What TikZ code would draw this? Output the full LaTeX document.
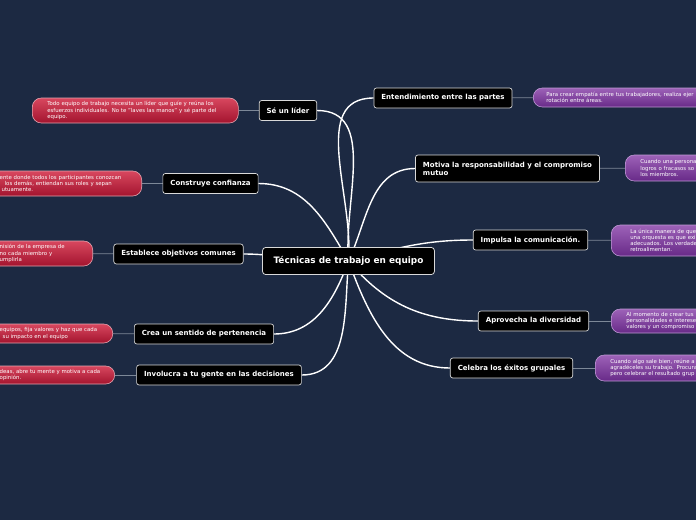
\documentclass[tikz,border=0pt]{standalone}
\usepackage{fontspec}
\setmainfont{DejaVu Sans}
\usetikzlibrary{positioning}
\definecolor{navy}{HTML}{1C2942}
\definecolor{redtop}{HTML}{D8475F}
\definecolor{redbot}{HTML}{A3142E}
\definecolor{redline}{HTML}{E3A3AE}
\definecolor{purpletop}{HTML}{9D62B8}
\definecolor{purplebot}{HTML}{682A88}
\definecolor{purpleline}{HTML}{BE98D4}
\definecolor{linkgrey}{HTML}{7D8898}
\pgfdeclarelayer{back}
\pgfdeclarelayer{links}
\pgfsetlayers{back,links,main}

\begin{document}
\begin{tikzpicture}[
    x=1pt, y=-1pt,
    root/.style={draw=white!85!black, fill=black, rounded corners=3pt, text=white, line width=0.8pt,
        font=\bfseries\fontsize{8.9}{10}\selectfont, minimum height=27pt, inner xsep=11pt},
    topic/.style={draw=white!85!black, fill=black, rounded corners=2.5pt, text=white, line width=0.7pt,
        font=\bfseries\fontsize{7}{8.2}\selectfont, minimum height=20pt, inner xsep=7.5pt},
    idea/.style={rounded corners=9pt, text=white, align=left, line width=0.6pt,
        font=\fontsize{5.4}{6.2}\selectfont, inner ysep=2pt},
    redidea/.style={idea, top color=redtop, bottom color=redbot, draw=redline},
    purpleidea/.style={idea, top color=purpletop, bottom color=purplebot, draw=purpleline},
    branch/.style={white, line width=1.4pt},
    twig/.style={linkgrey, line width=0.7pt}
]
    \useasboundingbox (0,0) rectangle (696,520);
    \begin{pgfonlayer}{back}
        \fill[navy] (0,0) rectangle (696,520);
    \end{pgfonlayer}

    \node[root] (root) at (348.5,261) {Técnicas de trabajo en equipo};

    % left side
    \node[topic] (lider) at (288,110.5) {Sé un líder};
    \node[topic] (confianza) at (210.5,183.5) {Construye confianza};
    \node[topic] (objetivos) at (178.5,254) {Establece objetivos comunes};
    \node[topic] (pertenencia) at (204,334) {Crea un sentido de pertenencia};
    \node[topic] (decisiones) at (219,375) {Involucra a tu gente en las decisiones};

    % right side
    \node[topic] (partes) at (443,98) {Entendimiento entre las partes};
    \node[topic, align=left, minimum height=27pt] (compromiso) at (507.5,168.5)
        {Motiva la responsabilidad y el compromiso\\mutuo};
    \node[topic] (comunicacion) at (530.5,240) {Impulsa la comunicación.};
    \node[topic] (diversidad) at (533.5,321) {Aprovecha la diversidad};
    \node[topic] (exitos) at (511.5,368) {Celebra los éxitos grupales};

    % notes
    \node[redidea, anchor=west, text width=176pt, inner xsep=15pt, minimum height=25pt] (pLider) at (32,110.5)
        {Todo equipo de trabajo necesita un líder que guíe y reúna los\\esfuerzos individuales. No te "laves las manos" y sé parte del\\equipo.};
    \node[redidea, anchor=east, text width=132pt, inner xsep=10pt, minimum height=25pt] (pConfianza) at (142,183.5)
        {ente donde todos los participantes conozcan\\\hspace*{5pt}los demás, entiendan sus roles y sepan\\\hspace*{2pt}utuamente.};
    \node[redidea, anchor=east, text width=83pt, inner xsep=10pt, minimum height=25pt] (pObjetivos) at (93,253.5)
        {nisión de la empresa de\\no cada miembro y\\umplirla};
    \node[redidea, anchor=east, text width=103pt, inner xsep=10pt, minimum height=19pt] (pPertenencia) at (113,333.5)
        {equipos, fija valores y haz que cada\\\hspace*{3pt}su impacto en el equipo};
    \node[redidea, anchor=east, text width=105pt, inner xsep=10pt, minimum height=18pt] (pDecisiones) at (115,375)
        {deas, abre tu mente y motiva a cada\\opinión.};

    \node[purpleidea, anchor=west, text width=200pt, inner xsep=13pt, minimum height=19pt] (pPartes) at (533,97.5)
        {Para crear empatía entre tus trabajadores, realiza ejer\\rotación entre áreas.};
    \node[purpleidea, anchor=west, text width=200pt, inner xsep=15pt, minimum height=26pt] (pCompromiso) at (625,168)
        {Cuando una persona\\logros o fracasos so\\los miembros.};
    \node[purpleidea, anchor=west, text width=200pt, inner xsep=19pt, minimum height=31pt] (pComunicacion) at (611,240.5)
        {La única manera de que\\una orquesta es que exi\\adecuados. Los verdade\\retroalimentan.};
    \node[purpleidea, anchor=west, text width=200pt, inner xsep=15pt, minimum height=24pt] (pDiversidad) at (611,321)
        {Al momento de crear tus\\personalidades e interese\\valores y un compromiso};
    \node[purpleidea, anchor=west, text width=200pt, inner xsep=15pt, minimum height=26pt] (pExitos) at (595,368)
        {Cuando algo sale bien, reúne a\\agradéceles su trabajo. Procura\\pero celebrar el resultado grup};

    \begin{pgfonlayer}{links}
        \draw[branch] (root.center) to[out=95, in=0] (lider.east);
        \draw[branch] (root.center) to[out=120, in=0] (confianza.east);
        \draw[branch] (root.center) to[out=185, in=0] (objetivos.east);
        \draw[branch] (root.center) to[out=250, in=0] (pertenencia.east);
        \draw[branch] (root.center) to[out=265, in=0] (decisiones.east);
        \draw[branch] (root.center) to[out=85, in=180] (partes.west);
        \draw[branch] (root.center) to[out=65, in=180] (compromiso.west);
        \draw[branch] (root.center) to[out=15, in=180] (comunicacion.west);
        \draw[branch] (root.center) to[out=-50, in=180] (diversidad.west);
        \draw[branch] (root.center) to[out=-70, in=180] (exitos.west);

        \draw[twig] (lider) -- (pLider);
        \draw[twig] (confianza) -- (pConfianza);
        \draw[twig] (objetivos) -- (pObjetivos);
        \draw[twig] (pertenencia) -- (pPertenencia);
        \draw[twig] (decisiones) -- (pDecisiones);
        \draw[twig] (partes) -- (pPartes);
        \draw[twig] (compromiso) -- (pCompromiso);
        \draw[twig] (comunicacion) -- (pComunicacion);
        \draw[twig] (diversidad) -- (pDiversidad);
        \draw[twig] (exitos) -- (pExitos);
    \end{pgfonlayer}
\end{tikzpicture}
\end{document}
